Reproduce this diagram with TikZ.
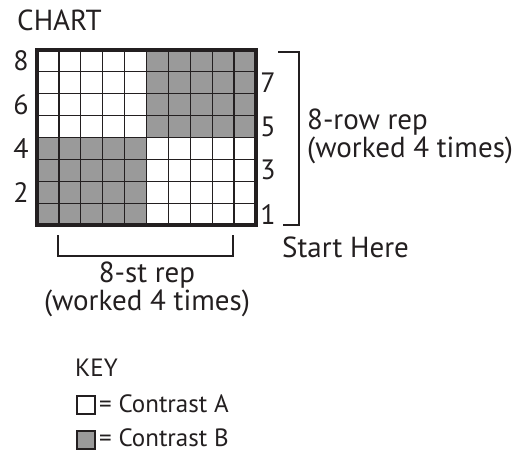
\documentclass[tikz,border=0pt]{standalone}
\usepackage{fontspec}
\setmainfont{PT Sans}
\usetikzlibrary{positioning}
\definecolor{ink}{HTML}{231F20}
\definecolor{cellgray}{HTML}{9A9A9A}

\begin{document}
\begin{tikzpicture}[x=1pt,y=-1pt,
		lbl/.style={font=\fontsize{29}{25}\selectfont,text=ink,inner sep=0pt},
		num/.style={font=\fontsize{28}{28}\selectfont,text=ink,inner sep=0pt},
		keytxt/.style={font=\fontsize{25}{25}\selectfont,text=ink,inner sep=0pt},
		thin/.style={draw=ink,line width=1.2pt},
		bold/.style={draw=ink,line width=2.6pt},
		frame/.style={draw=ink,line width=4pt},
		bracket/.style={draw=ink,line width=1.5pt},
		swatch/.style={draw=ink,line width=2pt,minimum size=18pt,inner sep=0pt}
		]
		\useasboundingbox (0,0) rectangle (519,453);
		
		\node[lbl,anchor=base west] (chart) at (17,30) {CHART};
		
		% chart: 10 sts by 8 rows
		\coordinate (nw) at (37,50);
		\coordinate (se) at (256,225);
		\fill[cellgray] (37,137.5) rectangle (146.5,225);
		\fill[cellgray] (146.5,50) rectangle (256,137.5);
		\foreach \i in {1,...,9}
			\draw[thin] ({37+\i*21.9},50) -- ({37+\i*21.9},225);
		\foreach \j in {1,...,7}
			\draw[thin] (37,{50+\j*21.875}) -- (256,{50+\j*21.875});
		\draw[bold] (58.9,50) -- (58.9,225);
		\draw[bold] (234.1,50) -- (234.1,225);
		\draw[frame] (nw) rectangle (se);
		
		% row numbers
		\foreach \r in {2,4,6,8}
			\node[num] (row\r) at (21,{225-(\r-0.5)*21.875}) {\r};
		\foreach \r in {1,3,5,7}
			\node[num] (row\r) at (268,{225-(\r-0.5)*21.875}) {\r};
		
		% row repeat
		\coordinate (rtop) at (278,52);
		\coordinate (rbot) at (283,225);
		\draw[bracket] (rtop) -- (299,52) -- (299,225) -- (rbot);
		\node[lbl,align=left,anchor=base west] (rowrep) at (307,157) {8-row rep\\(worked 4 times)};
		\node[lbl,anchor=base west] (start) at (282,257) {Start Here};
		
		% stitch repeat
		\coordinate (sleft) at (58,235);
		\coordinate (sright) at (233,235);
		\draw[bracket] (sleft) -- (58,256) -- (233,256) -- (sright);
		\node[lbl,align=center,anchor=base] (strep) at (147,310) {8-st rep\\(worked 4 times)};
		
		% key
		\node[keytxt,anchor=base west] (key) at (75,376) {KEY};
		\node[swatch,fill=white,anchor=north west] (swA) at (76,395) {};
		\node[swatch,fill=cellgray,anchor=north west] (swB) at (76,430) {};
		\node[keytxt,anchor=base west] (keyA) at (99,412) {= Contrast A};
		\node[keytxt,anchor=base west] (keyB) at (99,446) {= Contrast B};
	\end{tikzpicture}
\end{document}
